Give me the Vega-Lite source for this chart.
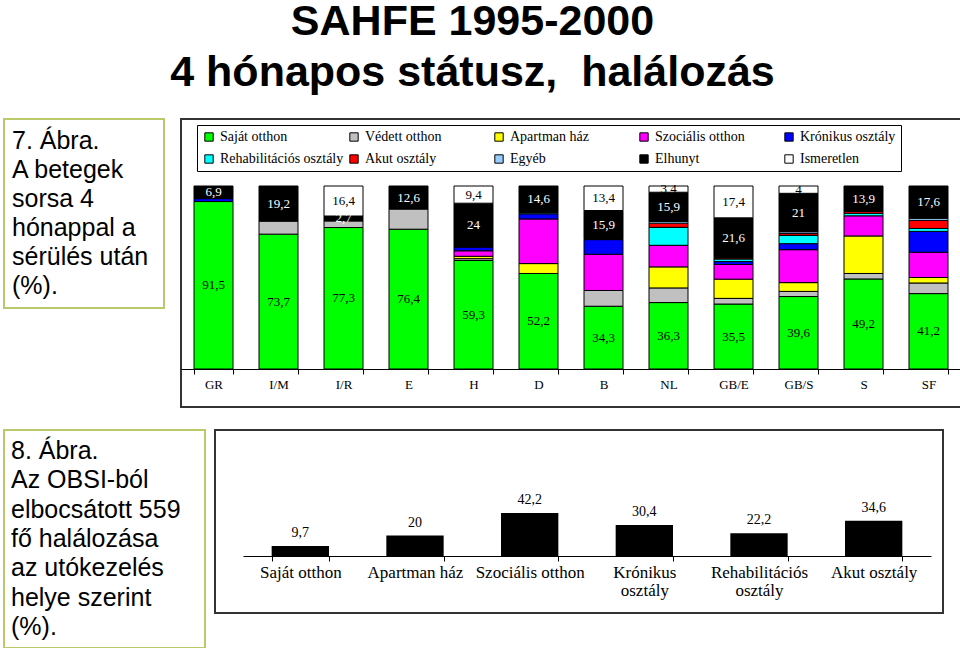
{
  "$schema": "https://vega.github.io/schema/vega-lite/v6.json",
  "padding": {"left": 3, "top": 1, "right": 0, "bottom": 0},
  "background": "white",
  "title": {
    "text": ["SAHFE 1995-2000", "4 hónapos státusz,\u00a0 halálozás"],
    "font": "Liberation Sans", "fontSize": 43, "fontWeight": "bold", "lineHeight": 51,
    "anchor": "middle", "dx": -10, "offset": 23, "color": "black"
  },
  "datasets": {
    "statuses": [
      {"status": "Saját otthon", "rank": 1},
      {"status": "Védett otthon", "rank": 2},
      {"status": "Apartman ház", "rank": 3},
      {"status": "Szociális otthon", "rank": 4},
      {"status": "Krónikus osztály", "rank": 5},
      {"status": "Rehabilitációs osztály", "rank": 6},
      {"status": "Akut osztály", "rank": 7},
      {"status": "Egyéb", "rank": 8},
      {"status": "Elhunyt", "rank": 9},
      {"status": "Ismeretlen", "rank": 10}
    ],
    "top": [
      {"group": "GR", "status": "Saját otthon", "value": 91.5},
      {"group": "GR", "status": "Krónikus osztály", "value": 1.6},
      {"group": "GR", "status": "Elhunyt", "value": 6.9},
      {"group": "I/M", "status": "Saját otthon", "value": 73.7},
      {"group": "I/M", "status": "Védett otthon", "value": 7.1},
      {"group": "I/M", "status": "Elhunyt", "value": 19.2},
      {"group": "I/R", "status": "Saját otthon", "value": 77.3},
      {"group": "I/R", "status": "Védett otthon", "value": 3.6},
      {"group": "I/R", "status": "Elhunyt", "value": 2.7},
      {"group": "I/R", "status": "Ismeretlen", "value": 16.4},
      {"group": "E", "status": "Saját otthon", "value": 76.4},
      {"group": "E", "status": "Védett otthon", "value": 11.0},
      {"group": "E", "status": "Elhunyt", "value": 12.6},
      {"group": "H", "status": "Saját otthon", "value": 59.3},
      {"group": "H", "status": "Védett otthon", "value": 1.0},
      {"group": "H", "status": "Apartman ház", "value": 1.3},
      {"group": "H", "status": "Szociális otthon", "value": 3.0},
      {"group": "H", "status": "Krónikus osztály", "value": 2.0},
      {"group": "H", "status": "Elhunyt", "value": 24},
      {"group": "H", "status": "Ismeretlen", "value": 9.4},
      {"group": "D", "status": "Saját otthon", "value": 52.2},
      {"group": "D", "status": "Apartman ház", "value": 5.4},
      {"group": "D", "status": "Szociális otthon", "value": 24.4},
      {"group": "D", "status": "Krónikus osztály", "value": 2.8},
      {"group": "D", "status": "Rehabilitációs osztály", "value": 0.6},
      {"group": "D", "status": "Elhunyt", "value": 14.6},
      {"group": "B", "status": "Saját otthon", "value": 34.3},
      {"group": "B", "status": "Védett otthon", "value": 8.6},
      {"group": "B", "status": "Szociális otthon", "value": 19.8},
      {"group": "B", "status": "Krónikus osztály", "value": 8.0},
      {"group": "B", "status": "Elhunyt", "value": 15.9},
      {"group": "B", "status": "Ismeretlen", "value": 13.4},
      {"group": "NL", "status": "Saját otthon", "value": 36.3},
      {"group": "NL", "status": "Védett otthon", "value": 8.0},
      {"group": "NL", "status": "Apartman ház", "value": 11.5},
      {"group": "NL", "status": "Szociális otthon", "value": 11.8},
      {"group": "NL", "status": "Rehabilitációs osztály", "value": 9.8},
      {"group": "NL", "status": "Akut osztály", "value": 2.3},
      {"group": "NL", "status": "Egyéb", "value": 1.0},
      {"group": "NL", "status": "Elhunyt", "value": 15.9},
      {"group": "NL", "status": "Ismeretlen", "value": 3.4},
      {"group": "GB/E", "status": "Saját otthon", "value": 35.5},
      {"group": "GB/E", "status": "Védett otthon", "value": 3.1},
      {"group": "GB/E", "status": "Apartman ház", "value": 10.5},
      {"group": "GB/E", "status": "Szociális otthon", "value": 8.0},
      {"group": "GB/E", "status": "Krónikus osztály", "value": 1.6},
      {"group": "GB/E", "status": "Rehabilitációs osztály", "value": 1.4},
      {"group": "GB/E", "status": "Akut osztály", "value": 0.6},
      {"group": "GB/E", "status": "Egyéb", "value": 0.3},
      {"group": "GB/E", "status": "Elhunyt", "value": 21.6},
      {"group": "GB/E", "status": "Ismeretlen", "value": 17.4},
      {"group": "GB/S", "status": "Saját otthon", "value": 39.6},
      {"group": "GB/S", "status": "Védett otthon", "value": 2.8},
      {"group": "GB/S", "status": "Apartman ház", "value": 4.8},
      {"group": "GB/S", "status": "Szociális otthon", "value": 18.0},
      {"group": "GB/S", "status": "Krónikus osztály", "value": 3.3},
      {"group": "GB/S", "status": "Rehabilitációs osztály", "value": 4.5},
      {"group": "GB/S", "status": "Akut osztály", "value": 1.0},
      {"group": "GB/S", "status": "Egyéb", "value": 1.0},
      {"group": "GB/S", "status": "Elhunyt", "value": 21},
      {"group": "GB/S", "status": "Ismeretlen", "value": 4},
      {"group": "S", "status": "Saját otthon", "value": 49.2},
      {"group": "S", "status": "Védett otthon", "value": 3.0},
      {"group": "S", "status": "Apartman ház", "value": 20.5},
      {"group": "S", "status": "Szociális otthon", "value": 11.0},
      {"group": "S", "status": "Rehabilitációs osztály", "value": 1.4},
      {"group": "S", "status": "Akut osztály", "value": 1.0},
      {"group": "S", "status": "Elhunyt", "value": 13.9},
      {"group": "SF", "status": "Saját otthon", "value": 41.2},
      {"group": "SF", "status": "Védett otthon", "value": 5.8},
      {"group": "SF", "status": "Apartman ház", "value": 3.0},
      {"group": "SF", "status": "Szociális otthon", "value": 13.8},
      {"group": "SF", "status": "Krónikus osztály", "value": 11.4},
      {"group": "SF", "status": "Rehabilitációs osztály", "value": 1.6},
      {"group": "SF", "status": "Akut osztály", "value": 4.4},
      {"group": "SF", "status": "Egyéb", "value": 1.2},
      {"group": "SF", "status": "Elhunyt", "value": 17.6}
    ],
    "bottom": [
      {"place": "Saját otthon", "value": 9.7},
      {"place": "Apartman ház", "value": 20},
      {"place": "Szociális otthon", "value": 42.2},
      {"place": "Krónikus osztály", "value": 30.4},
      {"place": "Rehabilitációs osztály", "value": 22.2},
      {"place": "Akut osztály", "value": 34.6}
    ]
  },
  "spacing": 21,
  "vconcat": [
    {
      "spacing": 15,
      "hconcat": [
        {
          "width": 160, "height": 189,
          "view": {"stroke": "#bcc96b", "strokeWidth": 2, "fill": "white"},
          "data": {"values": [
            {"line": 1, "t": "7. Ábra."},
            {"line": 2, "t": "A betegek"},
            {"line": 3, "t": "sorsa 4"},
            {"line": 4, "t": "hónappal a"},
            {"line": 5, "t": "sérülés után"},
            {"line": 6, "t": "(%)."}
          ]},
          "mark": {"type": "text", "align": "left", "baseline": "middle", "font": "Liberation Sans", "fontSize": 25, "color": "black"},
          "encoding": {
            "x": {"value": 8},
            "y": {"field": "line", "type": "ordinal", "scale": {"type": "point", "padding": 0.78}, "axis": null},
            "text": {"field": "t"}
          }
        },
        {
          "width": 780, "height": 288,
          "view": {"stroke": "#333333", "strokeWidth": 2, "fill": "white"},
          "data": {"name": "top"},
          "transform": [
            {"lookup": "status", "from": {"data": {"name": "statuses"}, "key": "status", "fields": ["rank"]}}
          ],
          "encoding": {
            "x": {
              "field": "group", "type": "nominal", "sort": null,
              "scale": {"paddingInner": 0.4, "paddingOuter": 0.2},
              "axis": {
                "title": null, "labelAngle": 0, "offset": -38, "tickBand": "extent",
                "domainColor": "black", "tickColor": "black", "tickSize": 5,
                "labelFont": "Liberation Serif", "labelFontSize": 13, "labelColor": "black", "labelPadding": 4
              }
            },
            "y": {
              "field": "value", "type": "quantitative", "stack": "zero",
              "scale": {"domain": [0, 100], "range": [250, 67], "nice": false},
              "axis": null
            },
            "order": {"field": "rank", "type": "quantitative"}
          },
          "layer": [
            {
              "mark": {"type": "bar", "stroke": "black", "strokeWidth": 1},
              "encoding": {
                "color": {
                  "field": "status", "type": "nominal",
                  "scale": {
                    "domain": ["Saját otthon", "Védett otthon", "Apartman ház", "Szociális otthon", "Krónikus osztály", "Rehabilitációs osztály", "Akut osztály", "Egyéb", "Elhunyt", "Ismeretlen"],
                    "range": ["#00ff00", "#c0c0c0", "#ffff00", "#ff00ff", "#0000ff", "#00ffff", "#ff0000", "#99ccff", "#000000", "#ffffff"]
                  },
                  "legend": {
                    "title": null, "orient": "none", "legendX": 193, "legendY": 6,
                    "direction": "horizontal", "columns": 5, "gridAlign": "all",
                    "columnPadding": 3, "rowPadding": 8, "padding": 5,
                    "strokeColor": "black", "fillColor": "white",
                    "symbolType": "square", "symbolSize": 70, "symbolStrokeColor": "black", "symbolStrokeWidth": 1, "symbolOpacity": 1,
                    "labelFont": "Liberation Serif", "labelFontSize": 14, "labelColor": "black", "labelLimit": 200
                  }
                }
              }
            },
            {
              "mark": {"type": "text", "font": "Liberation Serif", "fontSize": 13, "baseline": "middle"},
              "encoding": {
                "y": {
                  "field": "value", "type": "quantitative", "stack": "zero", "bandPosition": 0.5,
                  "scale": {"domain": [0, 100], "range": [250, 67], "nice": false},
                  "axis": null
                },
                "detail": {"field": "status"},
                "text": {
                  "condition": {"test": "datum.status === 'Saját otthon' || datum.status === 'Elhunyt' || datum.status === 'Ismeretlen'", "field": "value", "type": "quantitative", "format": ".1~f"},
                  "value": ""
                },
                "color": {"condition": {"test": "datum.status === 'Elhunyt'", "value": "white"}, "value": "black"}
              }
            }
          ]
        }
      ]
    },
    {
      "spacing": 8,
      "hconcat": [
        {
          "width": 201, "height": 218,
          "view": {"stroke": "#bcc96b", "strokeWidth": 2, "fill": "white"},
          "data": {"values": [
            {"line": 1, "t": "8. Ábra."},
            {"line": 2, "t": "Az OBSI-ból"},
            {"line": 3, "t": "elbocsátott 559"},
            {"line": 4, "t": "fő halálozása"},
            {"line": 5, "t": "az utókezelés"},
            {"line": 6, "t": "helye szerint"},
            {"line": 7, "t": "(%)."}
          ]},
          "mark": {"type": "text", "align": "left", "baseline": "middle", "font": "Liberation Sans", "fontSize": 25, "color": "black"},
          "encoding": {
            "x": {"value": 7},
            "y": {"field": "line", "type": "ordinal", "scale": {"type": "point", "padding": 0.72}, "axis": null},
            "text": {"field": "t"}
          }
        },
        {
          "width": 728, "height": 183,
          "view": {"stroke": "#333333", "strokeWidth": 2, "fill": "white"},
          "data": {"name": "bottom"},
          "encoding": {
            "x": {
              "field": "place", "type": "nominal", "sort": null,
              "scale": {"range": [28, 716], "paddingInner": 0.5, "paddingOuter": 0.25},
              "axis": {
                "title": null, "labelAngle": 0, "offset": -57, "tickBand": "extent",
                "domainColor": "black", "tickColor": "black", "tickSize": 5,
                "labelFont": "Liberation Serif", "labelFontSize": 17, "labelColor": "black", "labelPadding": 3,
                "labelLineHeight": 18,
                "labelExpr": "datum.label === 'Krónikus osztály' || datum.label === 'Rehabilitációs osztály' ? split(datum.label, ' ') : datum.label"
              }
            },
            "y": {
              "field": "value", "type": "quantitative",
              "scale": {"domain": [0, 50], "range": [126, 75], "nice": false},
              "axis": null
            }
          },
          "layer": [
            {"mark": {"type": "bar", "color": "black"}},
            {
              "mark": {"type": "text", "baseline": "bottom", "dy": -6, "font": "Liberation Serif", "fontSize": 14, "color": "black"},
              "encoding": {"text": {"field": "value", "type": "quantitative", "format": ".1~f"}}
            }
          ]
        }
      ]
    }
  ],
  "config": {
    "locale": {"number": {"decimal": ",", "thousands": " ", "grouping": [3], "currency": ["", ""]}}
  }
}
